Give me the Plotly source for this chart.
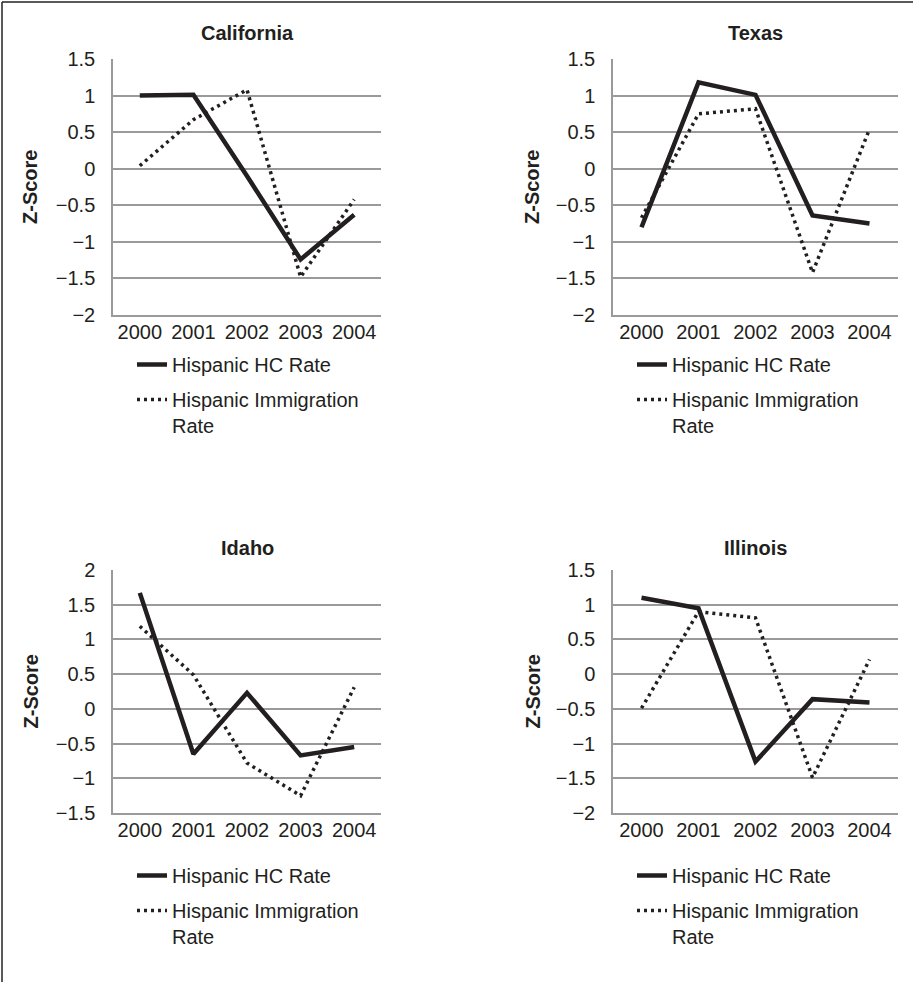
import plotly.graph_objects as go

# ---------------- data ----------------
years = ["2000", "2001", "2002", "2003", "2004"]
states = ["California", "Texas", "Idaho", "Illinois"]

ca_hc = [1.00, 1.01, -0.10, -1.24, -0.63]
ca_imm = [0.04, 0.67, 1.08, -1.48, -0.42]
tx_hc = [-0.80, 1.18, 1.01, -0.64, -0.75]
tx_imm = [-0.67, 0.75, 0.82, -1.42, 0.54]
id_hc = [1.67, -0.65, 0.23, -0.67, -0.55]
id_imm = [1.19, 0.49, -0.78, -1.25, 0.31]
il_hc = [1.10, 0.95, -1.26, -0.36, -0.41]
il_imm = [-0.49, 0.90, 0.81, -1.49, 0.21]

y_ranges = [[-2, 1.5], [-2, 1.5], [-1.5, 2], [-2, 1.5]]
series_names = ["Hispanic HC Rate", "Hispanic Immigration<br>Rate"]

# ---------------- layout geometry ----------------
W, H = 913, 982
FONT = "Liberation Sans, Arial, Helvetica, sans-serif"
TXT = "#231f20"
GRID = "#9a9a9a"

x_dom_px = [(113, 381), (613, 898), (113, 381), (613, 898)]
y_dom_px = [(59, 315), (59, 315), (570, 813), (570, 813)]
legend_pos_px = [(132, 345), (632, 345), (132, 856), (632, 856)]

hc_data = [ca_hc, tx_hc, id_hc, il_hc]
imm_data = [ca_imm, tx_imm, id_imm, il_imm]

fig = go.Figure()
layout = dict(
    width=W, height=H,
    margin=dict(l=0, r=0, t=0, b=0, pad=0, autoexpand=False),
    paper_bgcolor="white", plot_bgcolor="white",
    font=dict(family=FONT, color=TXT, size=20),
    annotations=[], shapes=[],
)

for i, st in enumerate(states):
    n = "" if i == 0 else str(i + 1)
    xa, ya = "x" + n, "y" + n
    lg = "legend" + n
    fig.add_trace(go.Scatter(
        x=years, y=hc_data[i], mode="lines", name=series_names[0],
        line=dict(color=TXT, width=4.5), xaxis=xa, yaxis=ya, legend=lg,
        legendgroup="hc" + n,
    ))
    fig.add_trace(go.Scatter(
        x=years, y=imm_data[i], mode="lines", name=series_names[1],
        line=dict(color=TXT, width=3.5, dash="3px,4px"), xaxis=xa, yaxis=ya, legend=lg,
        legendgroup="imm" + n,
    ))
    x0, x1 = x_dom_px[i]
    yt, yb = y_dom_px[i]
    layout["xaxis" + n] = dict(
        domain=[x0 / W, x1 / W], anchor=ya, type="category",
        range=[-0.5, 4.5], showgrid=False, showline=True, automargin=False,
        linecolor=GRID, linewidth=1.5, ticks="", tickfont=dict(size=20, color=TXT),
        ticklabelstandoff=-2, fixedrange=True,
    )
    layout["yaxis" + n] = dict(
        domain=[1 - yb / H, 1 - yt / H], anchor=xa, range=y_ranges[i], dtick=0.5,
        showgrid=True, gridcolor=GRID, gridwidth=1.5, zeroline=False, automargin=False,
        showline=True, linecolor=GRID, linewidth=1.5, ticks="",
        ticklabelstandoff=12, tickfont=dict(size=20, color=TXT), fixedrange=True,
    )
    lx, ly = legend_pos_px[i]
    layout[lg] = dict(
        x=lx / W, y=1 - ly / H, xanchor="left", yanchor="top",
        bgcolor="rgba(0,0,0,0)", font=dict(size=20, color=TXT),
        itemwidth=30, tracegroupgap=6, valign="top", traceorder="grouped",
    )
    layout["annotations"].append(dict(
        text="<b>%s</b>" % st, xref=xa + " domain", yref=ya + " domain",
        x=0.5, y=1, yanchor="middle", yshift=26 if i < 2 else 22, showarrow=False,
        font=dict(size=20, color=TXT),
    ))
    layout["annotations"].append(dict(
        text="<b>Z-Score</b>", xref=xa + " domain", yref=ya + " domain",
        x=0, y=0.5, xanchor="center", yanchor="middle", xshift=-83 if i % 2 == 0 else -81,
        textangle=-90, showarrow=False, font=dict(size=20, color=TXT),
    ))

# page frame (top and left edges)
layout["shapes"].append(dict(type="line", xref="paper", yref="paper",
                             x0=2 / W, x1=1, y0=1 - 2 / H, y1=1 - 2 / H,
                             line=dict(color="#222", width=1.5)))
layout["shapes"].append(dict(type="line", xref="paper", yref="paper",
                             x0=2 / W, x1=2 / W, y0=0, y1=1 - 2 / H,
                             line=dict(color="#222", width=1.5)))

fig.update_layout(**layout)
fig.write_html("out.html", config={"displayModeBar": False},
               post_script="document.body.style.margin='0px';")
